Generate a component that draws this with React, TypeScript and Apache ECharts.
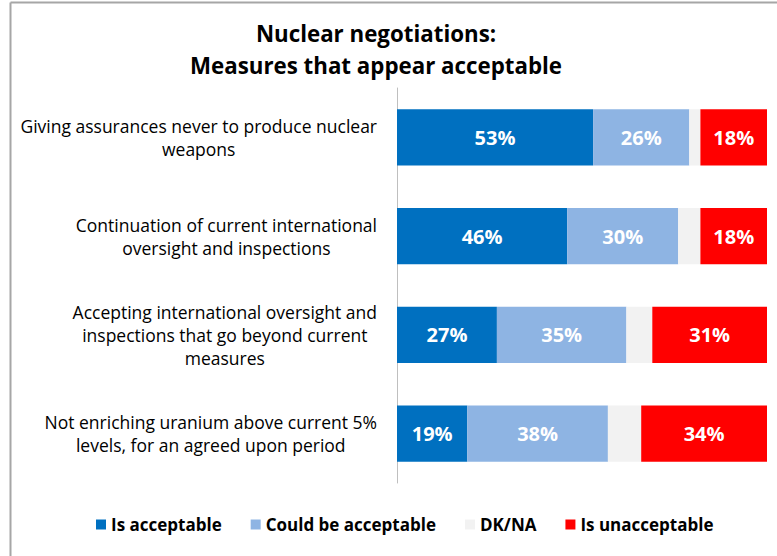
import React, { useEffect, useRef } from "react";
import * as echarts from "echarts";

const titleLines = ["Nuclear negotiations:", "Measures that appear acceptable"];
const categories = [
  "Giving assurances never to produce nuclear\nweapons",
  "Continuation of current international\noversight and inspections",
  "Accepting international oversight and\ninspections that go beyond current\nmeasures",
  "Not enriching uranium above current 5%\nlevels, for an agreed upon period",
];
const seriesNames = ["Is acceptable", "Could be acceptable", "DK/NA", "Is unacceptable"];
const isAcceptable = [53, 46, 27, 19];
const couldBeAcceptable = [26, 30, 35, 38];
const dkna = [3, 6, 7, 9];
const isUnacceptable = [18, 18, 31, 34];
const colors = ["#0070C0", "#8EB4E3", "#F2F2F2", "#FF0000"];

const FONT = "'Open Sans', Lato, sans-serif";

export default function App() {
  const ref = useRef<HTMLDivElement>(null);
  useEffect(() => {
    if (!ref.current) return;
    const chart = echarts.init(ref.current, undefined, { renderer: "svg" });
    const values = [isAcceptable, couldBeAcceptable, dkna, isUnacceptable];
    const series = seriesNames.map((name, i) => ({
      name,
      type: "bar",
      stack: "total",
      barCategoryGap: "43%",
      data: values[i],
      itemStyle: { color: colors[i] },
      label: {
        show: i !== 2,
        position: "inside",
        color: "#ffffff",
        fontFamily: FONT,
        fontWeight: "bold",
        fontSize: 20,
        formatter: "{c}%",
      },
    }));
    chart.setOption({
      animation: false,
      backgroundColor: "#ffffff",
      textStyle: { fontFamily: FONT },
      graphic: [
        { type: "line", shape: { x1: 10.5, y1: 2.5, x2: 777, y2: 2.5 }, style: { stroke: "#a6a6a6", lineWidth: 2 } },
        { type: "line", shape: { x1: 10.5, y1: 2.5, x2: 10.5, y2: 556 }, style: { stroke: "#a6a6a6", lineWidth: 2 } },
        {
          type: "text",
          x: 376,
          y: 17,
          style: {
            text: titleLines.join("\n"),
            fontFamily: FONT,
            fontWeight: "bold",
            fontSize: 22.3,
            lineHeight: 32,
            fill: "#000000",
            align: "center",
            verticalAlign: "top",
          },
        },
      ],
      legend: {
        data: seriesNames,
        left: 91,
        top: 511,
        icon: "rect",
        itemWidth: 10,
        itemHeight: 10,
        itemGap: 29,
        textStyle: { fontFamily: FONT, fontWeight: "bold", fontSize: 17, color: "#000000" },
      },
      grid: { left: 397, right: 10, top: 88, bottom: 73, containLabel: false },
      xAxis: {
        type: "value",
        min: 0,
        max: 100,
        show: false,
      },
      yAxis: {
        type: "category",
        inverse: true,
        data: categories,
        axisLine: { show: true, lineStyle: { color: "#bfbfbf", width: 1 } },
        axisTick: { show: false },
        axisLabel: {
          margin: 20,
          color: "#000000",
          fontFamily: FONT,
          fontSize: 17.5,
          lineHeight: 23,
          formatter: (v: string) =>
            v
              .split("\n")
              .map((l) => "{c|" + l + "}")
              .join("\n"),
          rich: { c: { align: "center", fontFamily: FONT, fontSize: 17.5, lineHeight: 23, color: "#000000" } },
        },
      },
      series,
    });
    return () => chart.dispose();
  }, []);
  return <div ref={ref} style={{ position: "fixed", left: 0, top: 0, width: 777, height: 556 }} />;
}
